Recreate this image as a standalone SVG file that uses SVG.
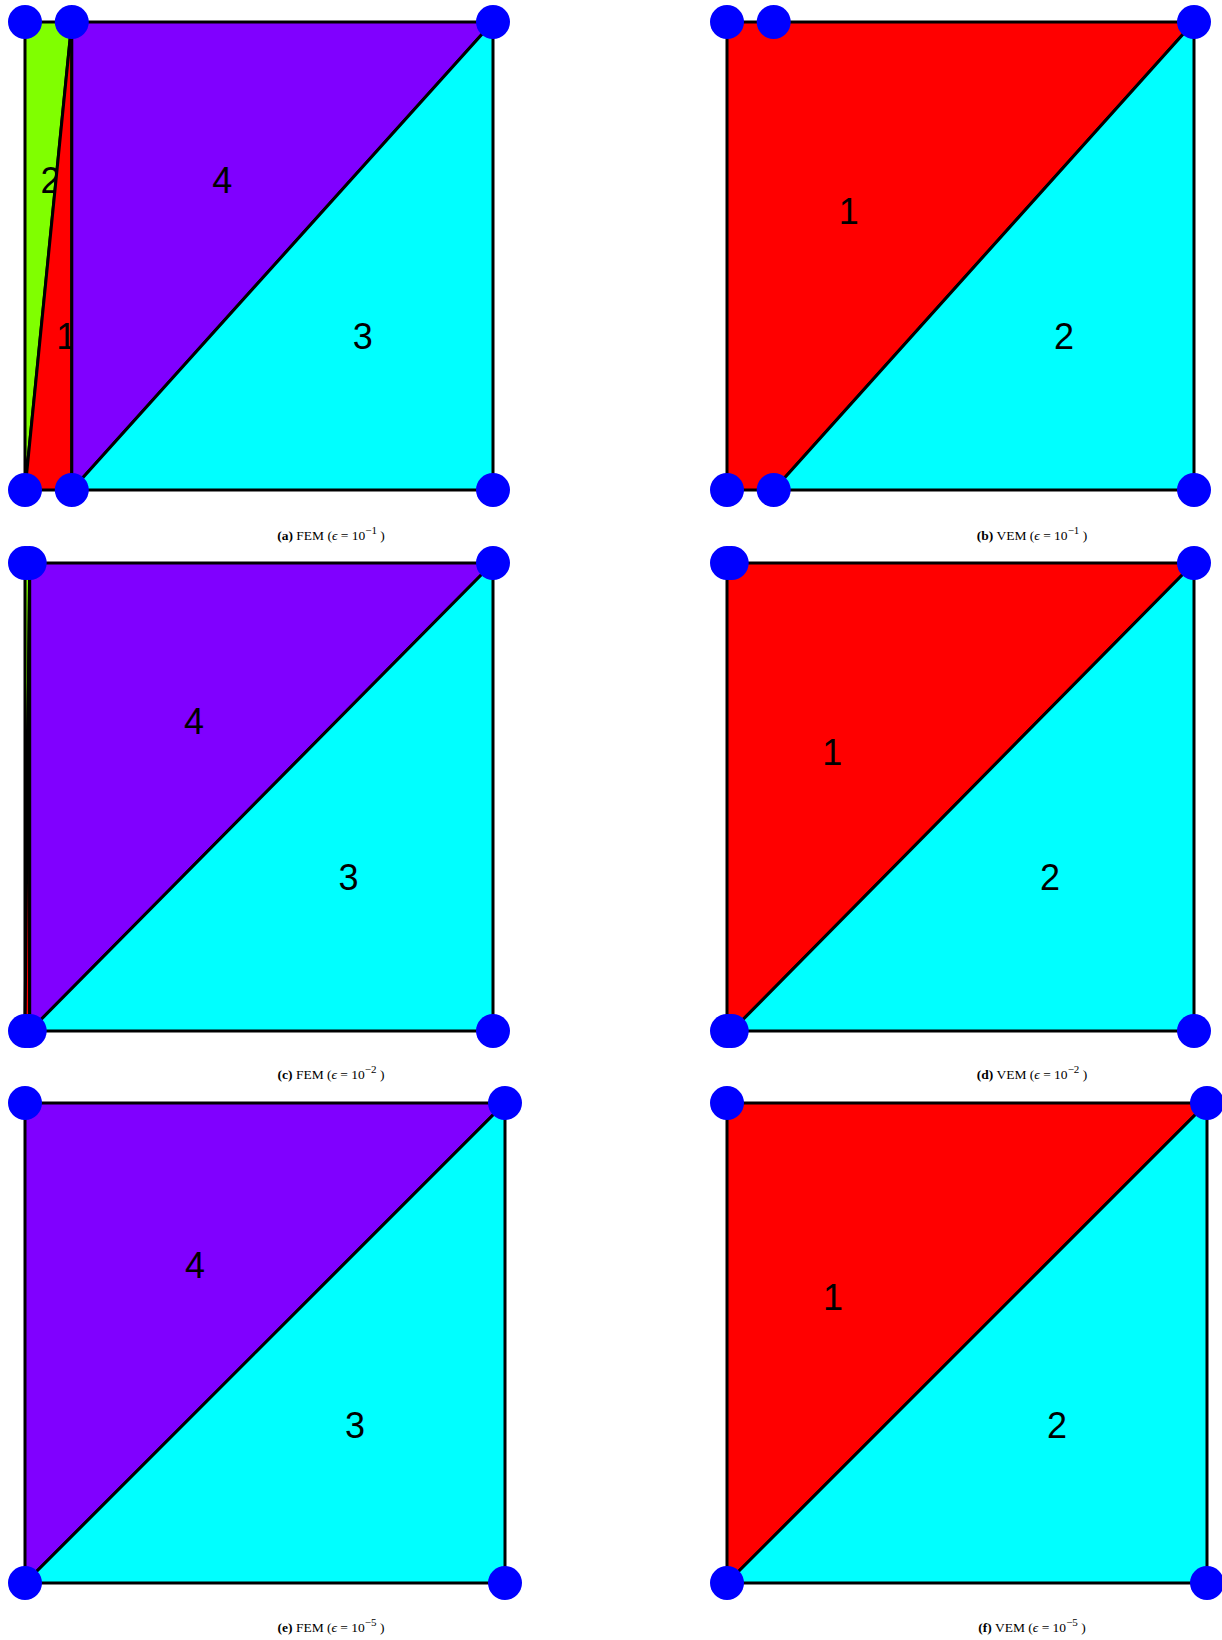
<svg xmlns="http://www.w3.org/2000/svg" width="1222" height="1640" viewBox="0 0 1222 1640">
<style>
.p{stroke:#000;stroke-width:3;stroke-linejoin:round}
.g{fill:#80ff00}.r{fill:#ff0000}.v{fill:#8000ff}.c{fill:#00ffff}
.l{font-family:"Liberation Sans",Arial,sans-serif;font-size:36px;fill:#000}
.n{fill:#0000ff}
.cap{font-family:"Liberation Serif","Times New Roman",serif;font-size:13.5px;fill:#000;text-anchor:middle}
.b{font-weight:bold}.i{font-style:italic}
.s{font-size:11px}
</style>
<rect width="1222" height="1640" fill="#fff"/>
<g id="panel-a">
<polygon class="p g" points="25,22 71.8,22 25,490"/>
<text class="l" x="40.6" y="193">2</text>
<polygon class="p r" points="25,490 71.8,22 71.8,490"/>
<text class="l" x="56.2" y="349">1</text>
<polygon class="p v" points="71.8,22 493,22 71.8,490"/>
<text class="l" x="212.3" y="193">4</text>
<polygon class="p c" points="71.8,490 493,22 493,490"/>
<text class="l" x="352.7" y="349">3</text>
<g id="nodes-a"><circle class="n" cx="25" cy="22" r="17"/><circle class="n" cx="71.8" cy="22" r="17"/><circle class="n" cx="493" cy="22" r="17"/><circle class="n" cx="25" cy="490" r="17"/><circle class="n" cx="71.8" cy="490" r="17"/><circle class="n" cx="493" cy="490" r="17"/></g>
<text class="cap" x="331" y="540"><tspan class="b">(a)</tspan> FEM (<tspan class="i">ϵ</tspan> = 10<tspan class="s" dy="-6">−1</tspan><tspan dy="6"> )</tspan></text>
</g>
<g id="panel-b">
<polygon class="p r" points="727,490 773.7,490 1194,22 773.7,22 727,22"/>
<text class="l" x="838.8" y="224">1</text>
<polygon class="p c" points="773.7,490 1194,490 1194,22"/>
<text class="l" x="1053.9" y="349">2</text>
<g id="nodes-b"><circle class="n" cx="727" cy="22" r="17"/><circle class="n" cx="773.7" cy="22" r="17"/><circle class="n" cx="1194" cy="22" r="17"/><circle class="n" cx="727" cy="490" r="17"/><circle class="n" cx="773.7" cy="490" r="17"/><circle class="n" cx="1194" cy="490" r="17"/></g>
<text class="cap" x="1032" y="540"><tspan class="b">(b)</tspan> VEM (<tspan class="i">ϵ</tspan> = 10<tspan class="s" dy="-6">−1</tspan><tspan dy="6"> )</tspan></text>
</g>
<g id="panel-c">
<polygon class="p g" points="25,563 29.7,563 25,1031"/>
<polygon class="p r" points="25,1031 29.7,563 29.7,1031"/>
<polygon class="p v" points="29.7,563 493,563 29.7,1031"/>
<text class="l" x="184" y="734">4</text>
<polygon class="p c" points="29.7,1031 493,563 493,1031"/>
<text class="l" x="338.6" y="890">3</text>
<g id="nodes-c"><circle class="n" cx="25" cy="563" r="17"/><circle class="n" cx="29.7" cy="563" r="17"/><circle class="n" cx="493" cy="563" r="17"/><circle class="n" cx="25" cy="1031" r="17"/><circle class="n" cx="29.7" cy="1031" r="17"/><circle class="n" cx="493" cy="1031" r="17"/></g>
<text class="cap" x="331" y="1079"><tspan class="b">(c)</tspan> FEM (<tspan class="i">ϵ</tspan> = 10<tspan class="s" dy="-6">−2</tspan><tspan dy="6"> )</tspan></text>
</g>
<g id="panel-d">
<polygon class="p r" points="727,1031 731.7,1031 1194,563 731.7,563 727,563"/>
<text class="l" x="822.3" y="765">1</text>
<polygon class="p c" points="731.7,1031 1194,1031 1194,563"/>
<text class="l" x="1039.9" y="890">2</text>
<g id="nodes-d"><circle class="n" cx="727" cy="563" r="17"/><circle class="n" cx="731.7" cy="563" r="17"/><circle class="n" cx="1194" cy="563" r="17"/><circle class="n" cx="727" cy="1031" r="17"/><circle class="n" cx="731.7" cy="1031" r="17"/><circle class="n" cx="1194" cy="1031" r="17"/></g>
<text class="cap" x="1032" y="1079"><tspan class="b">(d)</tspan> VEM (<tspan class="i">ϵ</tspan> = 10<tspan class="s" dy="-6">−2</tspan><tspan dy="6"> )</tspan></text>
</g>
<g id="panel-e">
<polygon class="p v" points="25,1103 505,1103 25,1583"/>
<text class="l" x="185" y="1278">4</text>
<polygon class="p c" points="25,1583 505,1103 505,1583"/>
<text class="l" x="345" y="1438">3</text>
<g id="nodes-e"><circle class="n" cx="25" cy="1103" r="17"/><circle class="n" cx="505" cy="1103" r="17"/><circle class="n" cx="25" cy="1583" r="17"/><circle class="n" cx="505" cy="1583" r="17"/></g>
<text class="cap" x="331" y="1632"><tspan class="b">(e)</tspan> FEM (<tspan class="i">ϵ</tspan> = 10<tspan class="s" dy="-6">−5</tspan><tspan dy="6"> )</tspan></text>
</g>
<g id="panel-f">
<polygon class="p r" points="727,1583 1207,1103 727,1103"/>
<text class="l" x="823" y="1310">1</text>
<polygon class="p c" points="727,1583 1207,1583 1207,1103"/>
<text class="l" x="1047" y="1438">2</text>
<g id="nodes-f"><circle class="n" cx="727" cy="1103" r="17"/><circle class="n" cx="1207" cy="1103" r="17"/><circle class="n" cx="727" cy="1583" r="17"/><circle class="n" cx="1207" cy="1583" r="17"/></g>
<text class="cap" x="1032" y="1632"><tspan class="b">(f)</tspan> VEM (<tspan class="i">ϵ</tspan> = 10<tspan class="s" dy="-6">−5</tspan><tspan dy="6"> )</tspan></text>
</g>
<g id="connectors"/>
</svg>
